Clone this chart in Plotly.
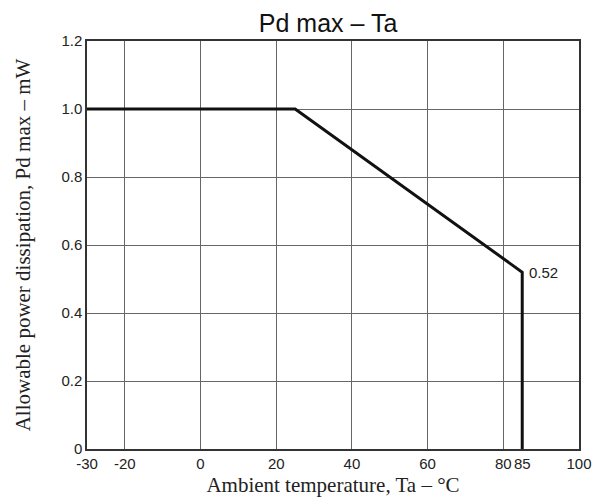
import plotly.graph_objects as go

# Data
ta = [-30, 25, 85, 85]
pd_max = [1.0, 1.0, 0.52, 0.0]

x_tickvals = [-30, -20, 0, 20, 40, 60, 80, 85, 100]
x_ticktext = ["-30", "-20", "0", "20", "40", "60", "80", "85", "100"]
y_tickvals = [0, 0.2, 0.4, 0.6, 0.8, 1.0, 1.2]
y_ticktext = ["0", "0.2", "0.4", "0.6", "0.8", "1.0", "1.2"]

SANS = "Liberation Sans, Arial"
SERIF = "Liberation Serif, Times New Roman"

fig = go.Figure()
fig.add_trace(go.Scatter(x=ta, y=pd_max, mode="lines",
                         line=dict(color="#111111", width=3),
                         showlegend=False, hoverinfo="skip"))

fig.add_annotation(x=ta[2], y=pd_max[2], text="0.52", showarrow=False,
                   xanchor="left", yanchor="middle", xshift=5, yshift=0,
                   font=dict(family=SANS, size=15, color="#222"))

# page body adds an 8px offset, so the figure is sized to fit the window
fig.update_layout(
    width=596, height=489,
    margin=dict(l=79, r=25, t=33, b=48),
    paper_bgcolor="white", plot_bgcolor="white",
    title=dict(text="Pd max – Ta", x=0.49, xref="paper", xanchor="center",
               y=1, yref="paper", yanchor="bottom", pad=dict(b=9),
               font=dict(family=SANS, size=25, color="#111")),
    xaxis=dict(range=[-30, 100], tickmode="array", tickvals=x_tickvals, ticktext=x_ticktext,
               showgrid=False, zeroline=False, ticks="", showline=True, linecolor="#333",
               linewidth=1.5, mirror=True, automargin=False,
               tickfont=dict(family=SANS, size=15, color="#222"),
               minor=dict(dtick=20, tick0=0, showgrid=True, gridcolor="#666", gridwidth=1),
               title=dict(text="Ambient temperature, Ta – °C", standoff=10,
                          font=dict(family=SERIF, size=21, color="#222"))),
    yaxis=dict(range=[0, 1.2], tickmode="array", tickvals=y_tickvals, ticktext=y_ticktext,
               showgrid=True, gridcolor="#666", gridwidth=1, zeroline=False, ticks="",
               showline=True, linecolor="#333", linewidth=1.5, mirror=True, automargin=False,
               tickfont=dict(family=SANS, size=15, color="#222"),
               title=dict(text="Allowable power dissipation, Pd max – mW", standoff=25,
                          font=dict(family=SERIF, size=21, color="#222"))),
)

fig.write_html("out.html")
